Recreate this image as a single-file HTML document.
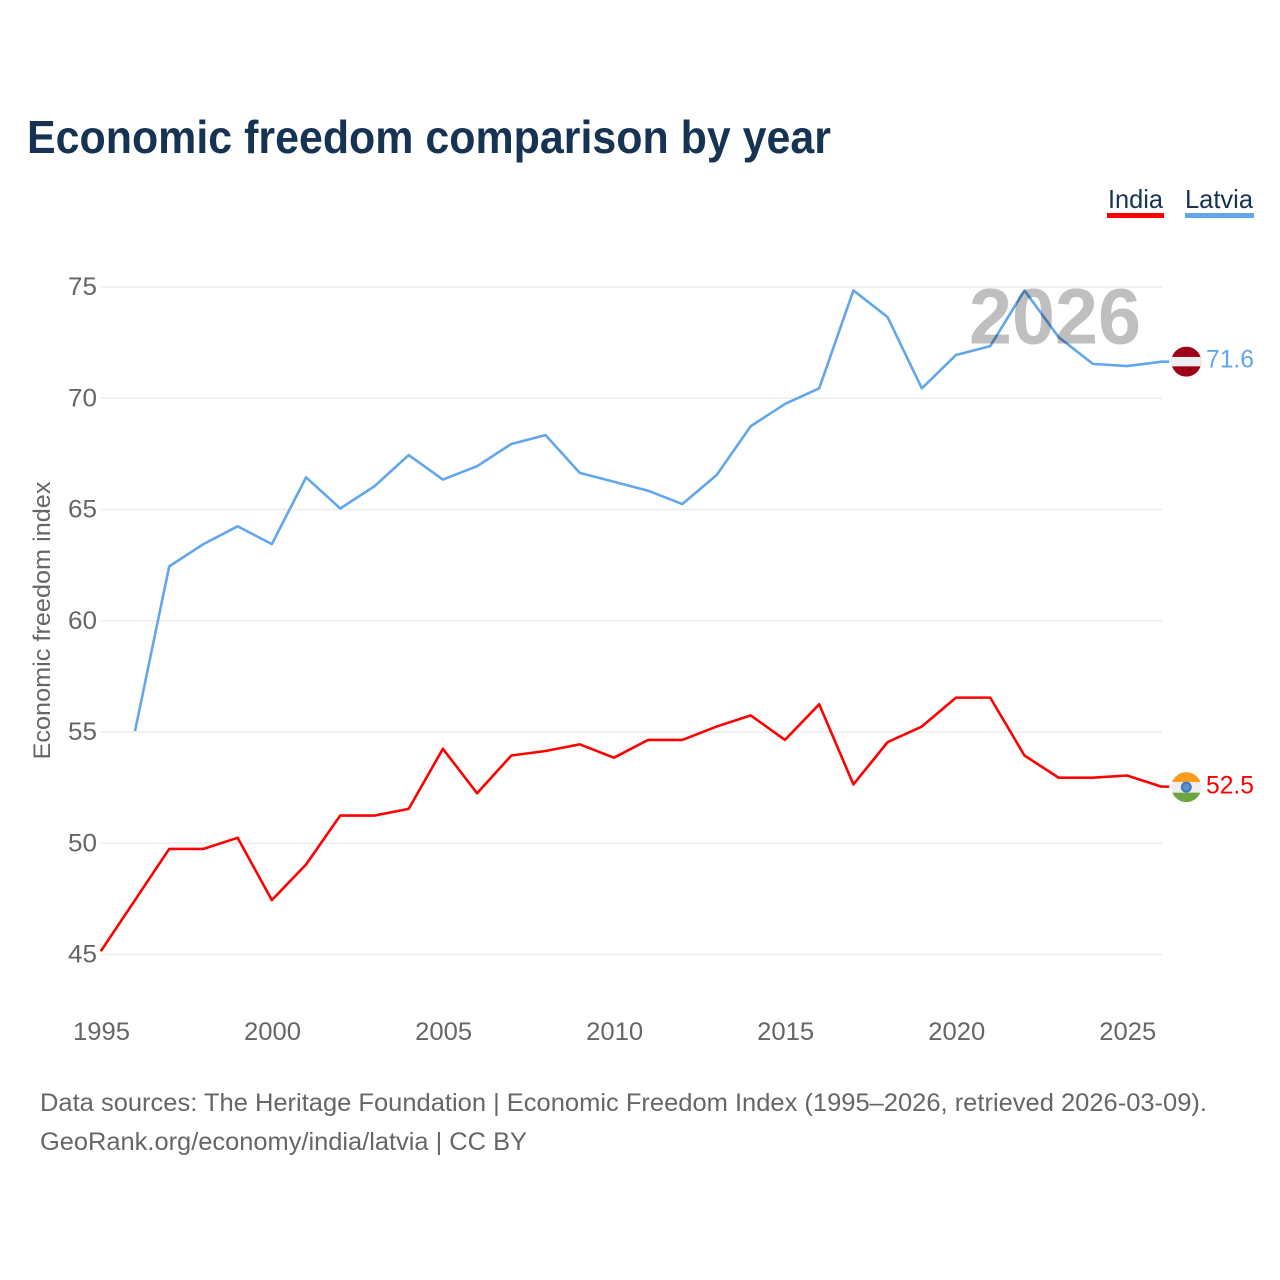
<!DOCTYPE html>
<html lang="en">
<head>
<meta charset="utf-8">
<title>Economic freedom comparison by year</title>
<style>
html,body{margin:0;padding:0;background:#fff;width:1280px;height:1280px;overflow:hidden}
svg{display:block;font-family:"Liberation Sans",sans-serif}
</style>
</head>
<body>
<svg id="chart" width="1280" height="1280" viewBox="0 0 1280 1280" xmlns="http://www.w3.org/2000/svg">
  <rect width="1280" height="1280" fill="#fff"/>
  <text x="27" y="153" font-size="46" font-weight="700" fill="#173354" textLength="804" lengthAdjust="spacingAndGlyphs">Economic freedom comparison by year</text>
  <g>
    <text x="1108" y="208" font-size="26" fill="#173354" textLength="55" lengthAdjust="spacingAndGlyphs">India</text>
    <rect x="1107" y="213" width="57" height="5" fill="#ff0000"/>
  </g>
  <g>
    <text x="1185" y="208" font-size="26" fill="#173354" textLength="68" lengthAdjust="spacingAndGlyphs">Latvia</text>
    <rect x="1185" y="213" width="69" height="5" fill="#62a6ec"/>
  </g>
  <g id="grid"></g>
  <g id="yticks"></g>
  <g id="xticks"></g>
  <text transform="translate(50,620.5) rotate(-90)" text-anchor="middle" font-size="24" fill="#666" textLength="278" lengthAdjust="spacingAndGlyphs">Economic freedom index</text>
  <g id="series" transform="translate(-0.7,-1)"></g>
  <text x="969" y="343.5" font-size="79" font-weight="700" fill="#bfbfbf" textLength="172" lengthAdjust="spacingAndGlyphs" style="mix-blend-mode:multiply">2026</text>
  <g id="ends"></g>
  <text x="40" y="1111" font-size="25" fill="#666" textLength="1167" lengthAdjust="spacingAndGlyphs">Data sources: The Heritage Foundation | Economic Freedom Index (1995–2026, retrieved 2026-03-09).</text>
  <text x="40" y="1150" font-size="25" fill="#666" textLength="487" lengthAdjust="spacingAndGlyphs">GeoRank.org/economy/india/latvia | CC BY</text>
</svg>
<script>
const years = [1995,1996,1997,1998,1999,2000,2001,2002,2003,2004,2005,2006,2007,2008,2009,2010,2011,2012,2013,2014,2015,2016,2017,2018,2019,2020,2021,2022,2023,2024,2025,2026];
const indiaValues = [45.1,47.4,49.7,49.7,50.2,47.4,49.0,51.2,51.2,51.5,54.2,52.2,53.9,54.1,54.4,53.8,54.6,54.6,55.2,55.7,54.6,56.2,52.6,54.5,55.2,56.5,56.5,53.9,52.9,52.9,53.0,52.5];
const latviaValues = [null,55.0,62.4,63.4,64.2,63.4,66.4,65.0,66.0,67.4,66.3,66.9,67.9,68.3,66.6,66.2,65.8,65.2,66.5,68.7,69.7,70.4,74.8,73.6,70.4,71.9,72.3,74.8,72.7,71.5,71.4,71.6];
const yTickValues = [45,50,55,60,65,70,75];
const xTickValues = [1995,2000,2005,2010,2015,2020,2025];

const NS = 'http://www.w3.org/2000/svg';
function xScale(year){ return 101.5 + (year - 1995) * (1162 - 101.5) / 31; }
function yScale(v){ return 954.5 - (v - 45) * (954.5 - 287) / 30; }
function make(tag, attrs, parent, text){
  const el = document.createElementNS(NS, tag);
  for (const k in attrs) el.setAttribute(k, attrs[k]);
  if (text !== undefined) el.textContent = text;
  parent.appendChild(el);
  return el;
}
const grid = document.getElementById('grid');
const yticks = document.getElementById('yticks');
const xticks = document.getElementById('xticks');
const seriesGroup = document.getElementById('series');
const ends = document.getElementById('ends');

yTickValues.forEach(function(v){
  const line = make('line', {x1:101, x2:1162, y1:yScale(v), y2:yScale(v), stroke:'#ececec', 'stroke-width':1.5}, grid);
  
  
  const label = make('text', {x:97, y:yScale(v) + 8, 'text-anchor':'end', 'font-size':25, fill:'#666', textLength:29, lengthAdjust:'spacingAndGlyphs'}, yticks, String(v));
  
  
});
xTickValues.forEach(function(y){
  const label = make('text', {x:xScale(y), y:1040, 'text-anchor':'middle', 'font-size':25, fill:'#666', textLength:57, lengthAdjust:'spacingAndGlyphs'}, xticks, String(y));
  
  
});
function linePath(values){
  let d = '';
  values.forEach(function(v, i){
    if (v === null) return;
    d += (d ? 'L' : 'M') + xScale(years[i]).toFixed(2) + ' ' + yScale(v).toFixed(2);
  });
  const last = values[values.length - 1];
  return d + 'L1170 ' + yScale(last).toFixed(2);
}
const latviaLine = make('path', {d:linePath(latviaValues), fill:'none', stroke:'#62a6ec', 'stroke-width':2.6, 'stroke-linejoin':'round'}, seriesGroup);


const indiaLine = make('path', {d:linePath(indiaValues), fill:'none', stroke:'#ff0000', 'stroke-width':2.6, 'stroke-linejoin':'round'}, seriesGroup);



const latviaLast = latviaValues[latviaValues.length - 1];
const indiaLast = indiaValues[indiaValues.length - 1];
const ly = yScale(latviaLast) - 1;
const iy = yScale(indiaLast) - 0.5;
const defs = make('defs', {}, ends);
const clipL = make('clipPath', {id:'clip-latvia'}, defs);
make('circle', {cx:1186.3, cy:ly, r:15}, clipL);
const clipI = make('clipPath', {id:'clip-india'}, defs);
make('circle', {cx:1186.3, cy:iy, r:15}, clipI);

const flagL = make('g', {'clip-path':'url(#clip-latvia)'}, ends);


make('rect', {x:1171, y:ly - 15, width:31, height:30, fill:'#9e0018'}, flagL);
make('rect', {x:1171, y:ly - 4.7, width:31, height:9.4, fill:'#eeeeee'}, flagL);

const flagI = make('g', {'clip-path':'url(#clip-india)'}, ends);


make('rect', {x:1171, y:iy - 15, width:31, height:10, fill:'#ff9a1f'}, flagI);
make('rect', {x:1171, y:iy - 5, width:31, height:10.5, fill:'#eeeeee'}, flagI);
make('rect', {x:1171, y:iy + 5.5, width:31, height:10, fill:'#6fa53f'}, flagI);
make('circle', {cx:1186.3, cy:iy, r:4.5, fill:'#5e8fcb', stroke:'#3b78bf', 'stroke-width':2}, flagI);

const latviaLabel = make('text', {x:1206, y:ly + 6, 'font-size':25, fill:'#62a6ec', textLength:48, lengthAdjust:'spacingAndGlyphs'}, ends, latviaLast.toFixed(1));


const indiaLabel = make('text', {x:1206, y:iy + 6.5, 'font-size':25, fill:'#ff0000', textLength:48, lengthAdjust:'spacingAndGlyphs'}, ends, indiaLast.toFixed(1));


</script>
</body>
</html>
